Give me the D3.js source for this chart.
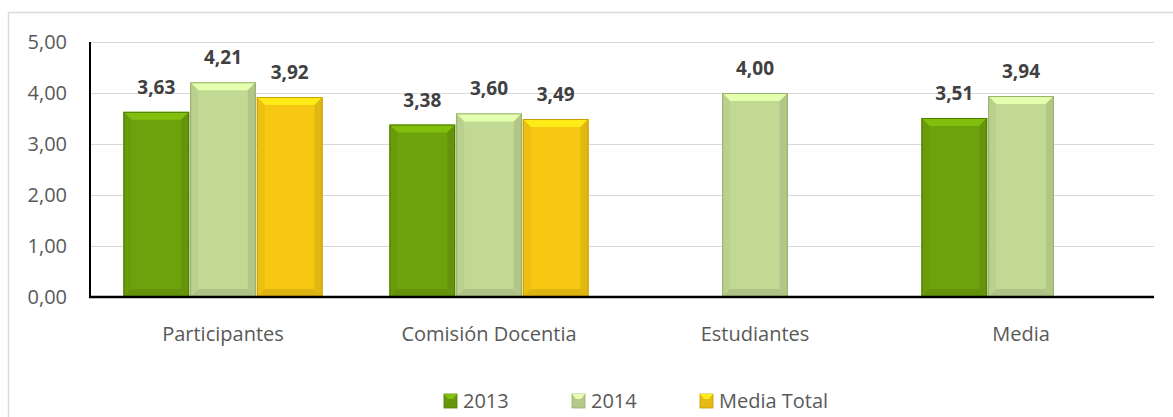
<!DOCTYPE html>
<html>
<head>
<meta charset="utf-8">
<script src="https://cdn.jsdelivr.net/npm/d3@7"></script>
<style>
  body { margin: 0; background: #fff; }
  svg { display: block; font-family: "Open Sans", sans-serif; }
</style>
</head>
<body>
<svg id="chart"></svg>
<script>
// data
const categories = ["Participantes", "Comisión Docentia", "Estudiantes", "Media"];
const series = ["2013", "2014", "Media Total"];
const values2013 = [3.63, 3.38, null, 3.51];
const values2014 = [4.21, 3.60, 4.00, 3.94];
const valuesMediaTotal = [3.92, 3.49, null, null];
const yTicks = [0, 1, 2, 3, 4, 5];
const colors = ["#6ea20c", "#c2d994", "#f6c814"];
const edgeColors = ["#507d04", "#97b06c", "#c99f00"];

const W = 1173, H = 417;
const margin = { left: 90, right: 19, top: 42, bottom: 120 };
const svg = d3.select("#chart").attr("width", W).attr("height", H);

// chart border
svg.append("rect")
  .attr("x", 8.5).attr("y", 12.5)
  .attr("width", W).attr("height", H)
  .attr("fill", "none").attr("stroke", "#d9d9d9").attr("stroke-width", 1.5);

const x0 = d3.scaleBand(categories, [margin.left, W - margin.right])
  .paddingInner(0.248).paddingOuter(0.124);
const x1 = d3.scaleBand(series, [0, x0.bandwidth()]);
const y = d3.scaleLinear([0, 5], [H - margin.bottom + 0, margin.top]);

const fmt = v => d3.format(".2f")(v).replace(".", ",");

// gridlines
svg.append("g")
  .selectAll("line")
  .data(yTicks.slice(1))
  .join("line")
  .attr("x1", margin.left).attr("x2", W - margin.right)
  .attr("y1", d => Math.round(y(d)) + 0.5).attr("y2", d => Math.round(y(d)) + 0.5)
  .attr("stroke", "#d9d9d9").attr("stroke-width", 1);

// y tick labels
svg.append("g")
  .selectAll("text")
  .data(yTicks)
  .join("text")
  .attr("x", 67)
  .attr("y", d => y(d) + 7)
  .attr("text-anchor", "end")
  .attr("font-size", 20)
  .attr("fill", "#595959")
  .text(fmt);

// bars, built from rows
const rows = categories.map((c, i) => ({
  cat: c,
  vals: [values2013[i], values2014[i], valuesMediaTotal[i]]
}));

function bevelBar(g, x, yTop, w, h, si) {
  const b = Math.min(8, h / 2);
  const base = d3.color(colors[si]);
  g.append("rect")
    .attr("x", x).attr("y", yTop).attr("width", w).attr("height", h)
    .attr("fill", base);
  // top bevel
  g.append("polygon")
    .attr("points", [[x, yTop], [x + w, yTop], [x + w - b, yTop + b], [x + b, yTop + b]].join(" "))
    .attr("fill", base.brighter(0.45));
  // left bevel
  g.append("polygon")
    .attr("points", [[x, yTop], [x + b, yTop + b], [x + b, yTop + h - b], [x, yTop + h]].join(" "))
    .attr("fill", base.darker(0.12));
  // right bevel
  g.append("polygon")
    .attr("points", [[x + w, yTop], [x + w - b, yTop + b], [x + w - b, yTop + h - b], [x + w, yTop + h]].join(" "))
    .attr("fill", base.darker(0.25));
  // bottom bevel
  g.append("polygon")
    .attr("points", [[x, yTop + h], [x + b, yTop + h - b], [x + w - b, yTop + h - b], [x + w, yTop + h]].join(" "))
    .attr("fill", base.darker(0.3));
  g.append("rect")
    .attr("x", x + 0.5).attr("y", yTop + 0.5).attr("width", w - 1).attr("height", h - 1)
    .attr("fill", "none").attr("stroke", edgeColors[si]).attr("stroke-width", 1);
}

const groups = svg.append("g")
  .selectAll("g")
  .data(rows)
  .join("g")
  .attr("transform", d => `translate(${x0(d.cat)},0)`);

groups.each(function (d) {
  const g = d3.select(this);
  d.vals.forEach((v, si) => {
    if (v == null) return;
    const bx = x1(series[si]) + 0.5;
    const bw = x1.bandwidth() - 1;
    bevelBar(g, bx, y(v), bw, y(0) - y(v), si);
    g.append("text")
      .attr("x", x1(series[si]) + x1.bandwidth() / 2)
      .attr("y", y(v) - 18)
      .attr("text-anchor", "middle")
      .attr("font-size", 19)
      .attr("font-weight", "bold")
      .attr("fill", "#404040")
      .text(fmt(v));
  });
});

// axes lines
svg.append("line")
  .attr("x1", margin.left).attr("x2", margin.left)
  .attr("y1", y(5)).attr("y2", y(0) + 1)
  .attr("stroke", "#000").attr("stroke-width", 2);
svg.append("line")
  .attr("x1", margin.left - 1).attr("x2", W - margin.right)
  .attr("y1", y(0)).attr("y2", y(0))
  .attr("stroke", "#000").attr("stroke-width", 2.5);

// category labels
svg.append("g")
  .selectAll("text")
  .data(categories)
  .join("text")
  .attr("x", d => x0(d) + x0.bandwidth() / 2)
  .attr("y", 341)
  .attr("text-anchor", "middle")
  .attr("font-size", 20)
  .attr("fill", "#595959")
  .text(d => d);

// legend
const legendX = [444, 572, 700];
const legend = svg.append("g")
  .selectAll("g")
  .data(series)
  .join("g")
  .attr("transform", (d, i) => `translate(${legendX[i]},394)`);
legend.each(function (d, i) {
  const g = d3.select(this);
  const base = d3.color(colors[i]);
  g.append("rect").attr("width", 13).attr("height", 14).attr("fill", base.darker(0.2))
    .attr("stroke", edgeColors[i]).attr("stroke-width", 0.8);
  g.append("polygon")
    .attr("points", [[0, 0], [13, 0], [9, 5], [4, 5]].join(" "))
    .attr("fill", base.brighter(0.5));
});
legend.append("text")
  .attr("x", 19).attr("y", 14)
  .attr("font-size", 20)
  .attr("fill", "#595959")
  .text(d => d);
</script>
</body>
</html>
